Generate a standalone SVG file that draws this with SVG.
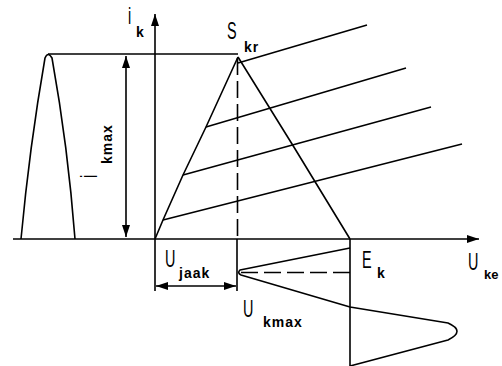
<svg xmlns="http://www.w3.org/2000/svg" width="502" height="366" viewBox="0 0 502 366">
<style>
.ln{fill:none;stroke:#000;stroke-width:1.6;stroke-linejoin:round}
.ds{fill:none;stroke:#000;stroke-width:1.6;stroke-dasharray:17 6}
.big{font-family:"Liberation Sans",Arial,sans-serif;font-size:24px;fill:#000}
.sub{font-family:"Liberation Sans",Arial,sans-serif;font-size:14px;font-weight:bold;letter-spacing:1px;fill:#000}
</style>
<defs>
<marker id="ah" viewBox="0 0 12 8" refX="12" refY="4" markerWidth="12" markerHeight="8" markerUnits="userSpaceOnUse" orient="auto-start-reverse">
<path d="M0,0 L12,4 L0,8 Z" fill="#000"/>
</marker>
</defs>
<rect width="502" height="366" fill="#fff"/>
<g id="axes">
<line class="ln" x1="13" y1="239" x2="479" y2="239" marker-end="url(#ah)"/>
<line class="ln" x1="155" y1="291" x2="155" y2="14" marker-end="url(#ah)"/>
</g>
<g id="input-pulse">
<path class="ln" d="M21,239 Q29.5,147 45,58 Q48,51 52,58 Q68,147 75,239"/>
<line class="ln" x1="48" y1="54" x2="238" y2="54"/>
</g>
<g id="connectors">
<line class="ln" x1="126" y1="56" x2="126" y2="237" marker-start="url(#ah)" marker-end="url(#ah)"/>
<line class="ln" x1="156" y1="286" x2="236" y2="286" marker-start="url(#ah)" marker-end="url(#ah)"/>
</g>
<g id="characteristic">
<polyline class="ln" points="155,239 163,220 183,175 206,127 238,57"/>
<path class="ln" d="M238,57 Q295,148 350,239"/>
<line class="ln" x1="163" y1="220" x2="462" y2="144"/>
<line class="ln" x1="183" y1="175" x2="431" y2="107"/>
<line class="ln" x1="206" y1="127" x2="406" y2="68"/>
<line class="ln" x1="238" y1="63" x2="367" y2="25"/>
<line class="ds" x1="237.5" y1="58" x2="237.5" y2="239"/>
<line class="ln" x1="237" y1="239" x2="237" y2="291"/>
</g>
<g id="output-wave">
<line class="ln" x1="350" y1="239" x2="350" y2="366"/>
<path class="ln" d="M350,248 L240,270 Q237,273 241,275 L350,307 L448,323 Q466,331 448,340 L350,366"/>
<line class="ds" x1="241" y1="272.5" x2="350" y2="272.5"/>
</g>
<g id="labels">
<text class="big" transform="translate(128,24) scale(0.6,1)">i</text>
<text class="sub" x="136" y="37">k</text>
<text class="big" transform="translate(227,39) scale(0.6,1)">S</text>
<text class="sub" x="244" y="52">kr</text>
<text class="big" transform="translate(97,178) rotate(-90) scale(0.6,1)">i</text>
<text class="sub" transform="translate(112,164) rotate(-90)">kmax</text>
<text class="big" transform="translate(165,267) scale(0.6,1)">U</text>
<text class="sub" x="179" y="278">jaak</text>
<text class="big" transform="translate(362,268) scale(0.6,1)">E</text>
<text class="sub" x="377" y="278">k</text>
<text class="big" transform="translate(468,270) scale(0.6,1)">U</text>
<text class="sub" x="484" y="279" style="letter-spacing:0;font-size:13px">ke</text>
<text class="big" transform="translate(243,317) scale(0.6,1)">U</text>
<text class="sub" x="263" y="327">kmax</text>
</g>
</svg>
